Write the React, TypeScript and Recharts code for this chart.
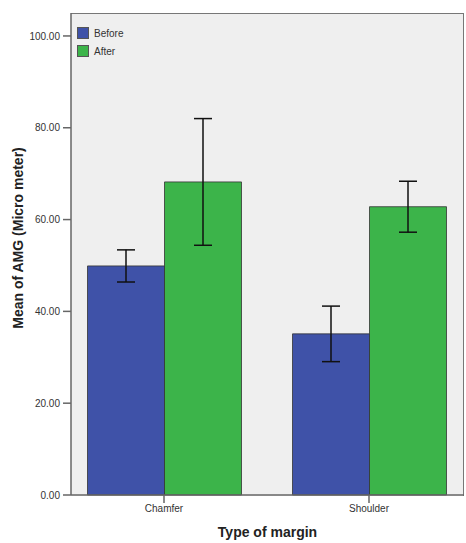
import { Bar, BarChart, ErrorBar, XAxis, YAxis } from "recharts";

const categories = ["Chamfer", "Shoulder"];
const beforeMeans = [49.9, 35.1];
const afterMeans = [68.2, 62.8];
const beforeCI = [3.5, 6.05];
const afterCI = [13.8, 5.55];
const yTicks = [0, 20, 40, 60, 80, 100];

const data = categories.map((c, i) => ({
  margin: c,
  Before: beforeMeans[i],
  After: afterMeans[i],
  beforeErr: beforeCI[i],
  afterErr: afterCI[i],
}));

const BLUE = "#3f52a8";
const GREEN = "#3cb44a";
const FONT = "'Liberation Sans', Arial, sans-serif";

// legend sits inside the plot, top-left, like the SPSS output
function BoxLegend() {
  const items = [
    { name: "Before", color: BLUE },
    { name: "After", color: GREEN },
  ];
  return (
    <div style={{ position: "absolute", left: 77, top: 24, fontFamily: FONT, fontSize: 10, color: "#333" }}>
      {items.map((it) => (
        <div key={it.name} style={{ display: "flex", alignItems: "center", height: 18 }}>
          <span
            style={{
              width: 10,
              height: 10,
              background: it.color,
              border: "1px solid #555",
              marginRight: 5,
            }}
          />
          {it.name}
        </div>
      ))}
    </div>
  );
}

function YTitle(props: any) {
  const vb = props.viewBox || {};
  const x = 18;
  const y = vb.y + vb.height / 2 - 16;
  return (
    <text
      x={x}
      y={y}
      transform={`rotate(-90, ${x}, ${y})`}
      textAnchor="middle"
      dominantBaseline="central"
      style={{ fontSize: 14, fontWeight: "bold", fill: "#222", fontFamily: FONT }}
    >
      Mean of AMG (Micro meter)
    </text>
  );
}

export default function App() {
  return (
    <div style={{ position: "fixed", left: 0, top: 0, width: 466, height: 543, background: "#fff" }}>
      <div
        style={{
          position: "absolute",
          left: 71,
          top: 13,
          width: 392,
          height: 482,
          background: "#efefef",
          borderTop: "1.5px solid #777",
          borderRight: "1.5px solid #777",
        }}
      />
      <BarChart
        width={466}
        height={543}
        data={data}
        margin={{ top: 13, right: 2, left: 0, bottom: 0 }}
        barGap={0}
        barSize={77}
        style={{ position: "absolute", left: 0, top: 0 }}
      >
        <XAxis
          dataKey="margin"
          height={48}
          padding={{ left: -9.5, right: -7.5 }}
          stroke="#666"
          strokeWidth={1.5}
          tickSize={8}
          tickMargin={2}
          tick={{ fontSize: 10, fill: "#333", fontFamily: FONT }}
          label={{
            value: "Type of margin",
            position: "insideBottom",
            offset: 6,
            style: { fontSize: 14, fontWeight: "bold", fill: "#222", fontFamily: FONT },
          }}
        />
        <YAxis
          width={71}
          domain={[0, 105]}
          ticks={yTicks}
          tickFormatter={(v: number) => v.toFixed(2)}
          stroke="#666"
          strokeWidth={1.5}
          tickSize={8}
          tickMargin={3}
          tick={{ fontSize: 10, fill: "#333", fontFamily: FONT }}
          label={<YTitle />}
        />
        <Bar dataKey="Before" fill={BLUE} stroke="#333" strokeWidth={0.8} isAnimationActive={false}>
          <ErrorBar dataKey="beforeErr" width={9} stroke="#111" strokeWidth={1.5} isAnimationActive={false} />
        </Bar>
        <Bar dataKey="After" fill={GREEN} stroke="#333" strokeWidth={0.8} isAnimationActive={false}>
          <ErrorBar dataKey="afterErr" width={9} stroke="#111" strokeWidth={1.5} isAnimationActive={false} />
        </Bar>
      </BarChart>
      <BoxLegend />
    </div>
  );
}
